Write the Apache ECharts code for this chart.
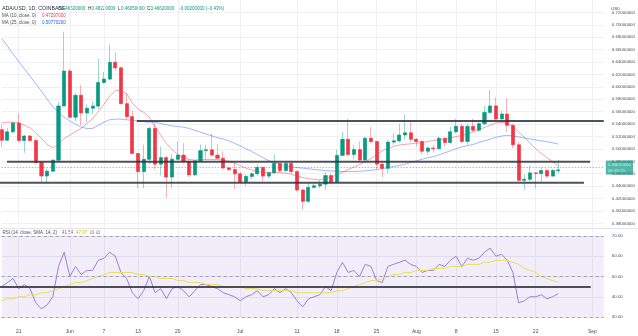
<!DOCTYPE html>
<html>
<head>
<meta charset="utf-8">
<script src="https://cdn.jsdelivr.net/npm/echarts/dist/echarts.min.js"></script>
<style>
  html, body { margin: 0; padding: 0; background: #ffffff; }
  #chart { width: 638px; height: 336px; }
</style>
</head>
<body>
<div id="chart"></div>
<script>
// Daily ADA/USD candles (Coinbase), one entry per session starting 2022-05-20
const open = [
  0.531, 0.514, 0.5276, 0.5417, 0.5135, 0.5208, 0.5135, 0.4781, 0.4563, 0.4641,
  0.4818, 0.5693, 0.6255, 0.5511, 0.5865, 0.558, 0.5656, 0.569, 0.607, 0.6125,
  0.6396, 0.6307, 0.573, 0.552, 0.4927, 0.4635, 0.4833, 0.533, 0.4755, 0.486,
  0.4547, 0.4833, 0.49, 0.4797, 0.4583, 0.4807, 0.4974, 0.4985, 0.4901, 0.4849,
  0.4693, 0.4667, 0.4599, 0.4469, 0.4557, 0.4599, 0.4703, 0.4562, 0.4615, 0.4765,
  0.4651, 0.4765, 0.4635, 0.4338, 0.4156, 0.438, 0.4406, 0.4432, 0.4572, 0.4469,
  0.4895, 0.5156, 0.4911, 0.4989, 0.4822, 0.5172, 0.512, 0.4755, 0.4687, 0.511,
  0.513, 0.5224, 0.526, 0.5156, 0.512, 0.4963, 0.5015, 0.5005, 0.5172, 0.5104,
  0.5276, 0.5364, 0.512, 0.5364, 0.5302, 0.5406, 0.5589, 0.5693, 0.5484, 0.5563,
  0.538, 0.5067, 0.4494, 0.451, 0.4614, 0.4604, 0.4651, 0.4562, 0.4652
];
const high = [
  0.540, 0.534, 0.5438, 0.5573, 0.5224, 0.5224, 0.517, 0.479, 0.4677, 0.4833,
  0.576, 0.689, 0.629, 0.590, 0.603, 0.572, 0.577, 0.645, 0.624, 0.668,
  0.655, 0.633, 0.590, 0.561, 0.492, 0.507, 0.5354, 0.5406, 0.504, 0.4885,
  0.491, 0.512, 0.5094, 0.4833, 0.4818, 0.507, 0.507, 0.525, 0.5083, 0.4963,
  0.4719, 0.478, 0.4625, 0.4583, 0.462, 0.4755, 0.4703, 0.4635, 0.491, 0.4781,
  0.4791, 0.480, 0.4655, 0.436, 0.4469, 0.444, 0.4494, 0.4625, 0.460, 0.4989,
  0.5276, 0.5484, 0.5067, 0.512, 0.520, 0.5354, 0.513, 0.4765, 0.5146, 0.525,
  0.5406, 0.5557, 0.5432, 0.5172, 0.513, 0.5041, 0.5067, 0.5198, 0.5172, 0.5354,
  0.5484, 0.5406, 0.5406, 0.5484, 0.5432, 0.5693, 0.5953, 0.5833, 0.5615, 0.5823,
  0.5406, 0.512, 0.4594, 0.4729, 0.4625, 0.4703, 0.4677, 0.4677, 0.4822
];
const low = [
  0.503, 0.5146, 0.525, 0.511, 0.4937, 0.512, 0.4755, 0.4453, 0.4453, 0.4625,
  0.4807, 0.568, 0.549, 0.545, 0.538, 0.543, 0.556, 0.564, 0.605, 0.611,
  0.626, 0.572, 0.548, 0.4912, 0.4365, 0.4364, 0.4755, 0.4677, 0.4573, 0.4218,
  0.4364, 0.4823, 0.4781, 0.4547, 0.4562, 0.4781, 0.4833, 0.4885, 0.4833, 0.4677,
  0.4651, 0.4354, 0.4443, 0.4406, 0.452, 0.4573, 0.4479, 0.452, 0.4599, 0.4625,
  0.4635, 0.460, 0.4312, 0.4026, 0.413, 0.436, 0.4365, 0.4338, 0.443, 0.4448,
  0.4885, 0.4885, 0.4833, 0.478, 0.4811, 0.5094, 0.4677, 0.4547, 0.4614, 0.5067,
  0.5104, 0.5146, 0.5104, 0.5041, 0.4911, 0.4911, 0.4937, 0.4989, 0.5041, 0.5083,
  0.525, 0.5094, 0.5067, 0.5276, 0.5276, 0.538, 0.5563, 0.5432, 0.5432, 0.5276,
  0.5015, 0.4479, 0.4338, 0.4479, 0.4364, 0.4469, 0.4536, 0.456, 0.4605
];
const close = [
  0.514, 0.5276, 0.5417, 0.5135, 0.5208, 0.5135, 0.4781, 0.4563, 0.4641, 0.4818,
  0.5693, 0.6255, 0.5511, 0.5865, 0.558, 0.5656, 0.569, 0.607, 0.6125, 0.6396,
  0.6307, 0.573, 0.552, 0.4927, 0.4635, 0.4833, 0.533, 0.4755, 0.486, 0.4547,
  0.4833, 0.49, 0.4797, 0.4583, 0.4807, 0.4974, 0.4985, 0.4901, 0.4849, 0.4693,
  0.4667, 0.4599, 0.4469, 0.4557, 0.4599, 0.4703, 0.4562, 0.4615, 0.4765, 0.4651,
  0.4765, 0.4635, 0.4338, 0.4156, 0.438, 0.4406, 0.4432, 0.4572, 0.4469, 0.4895,
  0.5156, 0.4911, 0.4989, 0.4822, 0.5172, 0.512, 0.4755, 0.4687, 0.511, 0.513,
  0.5224, 0.526, 0.5156, 0.512, 0.4963, 0.5015, 0.5005, 0.5172, 0.5104, 0.5276,
  0.5364, 0.512, 0.5364, 0.5302, 0.5406, 0.5589, 0.5693, 0.5484, 0.5563, 0.538,
  0.5067, 0.4494, 0.451, 0.4614, 0.4604, 0.4651, 0.4562, 0.4652, 0.4662
];

// Moving averages of close
const ma10 = [
  0.542, 0.543, 0.543, 0.542, 0.538, 0.534, 0.526, 0.517, 0.507, 0.502,
  0.507, 0.517, 0.522, 0.528, 0.533, 0.541, 0.549, 0.560, 0.572, 0.585,
  0.594, 0.594, 0.589, 0.574, 0.564, 0.559, 0.551, 0.536, 0.522, 0.509,
  0.499, 0.491, 0.486, 0.483, 0.482, 0.483, 0.483, 0.483, 0.483, 0.482,
  0.480, 0.477, 0.473, 0.469, 0.466, 0.464, 0.462, 0.462, 0.462, 0.462,
  0.461, 0.459, 0.456, 0.454, 0.452, 0.451, 0.450, 0.4521, 0.4547, 0.4583,
  0.4625, 0.4667, 0.4709, 0.475, 0.4792, 0.4844, 0.4911, 0.4969, 0.501, 0.5042,
  0.5063, 0.5073, 0.5083, 0.5094, 0.5104, 0.512, 0.5135, 0.5146, 0.5161, 0.5177,
  0.5198, 0.5219, 0.524, 0.5276, 0.5313, 0.5344, 0.5385, 0.5417, 0.5427, 0.5417,
  0.5365, 0.5276, 0.5188, 0.5094, 0.5005, 0.4927, 0.4859, 0.4792, 0.47297
];
const ma25 = [
  0.678, 0.666, 0.653, 0.641, 0.629, 0.617, 0.605, 0.593, 0.580, 0.568,
  0.559, 0.551, 0.545, 0.540, 0.535, 0.533, 0.533, 0.538, 0.543, 0.547,
  0.548, 0.548, 0.547, 0.546, 0.545, 0.544, 0.543, 0.543, 0.541, 0.539,
  0.537, 0.536, 0.535, 0.533, 0.530, 0.527, 0.524, 0.521, 0.518, 0.516,
  0.513, 0.509, 0.505, 0.500, 0.496, 0.491, 0.486, 0.481, 0.478, 0.475,
  0.473, 0.471, 0.470, 0.469, 0.468, 0.467, 0.466, 0.4651, 0.4646, 0.464,
  0.4635, 0.4635, 0.4635, 0.464, 0.4646, 0.4656, 0.4667, 0.4682, 0.4698, 0.4719,
  0.4734, 0.4755, 0.4781, 0.4807, 0.4833, 0.4859, 0.4875, 0.4906, 0.4938, 0.4969,
  0.5005, 0.5031, 0.5052, 0.5073, 0.5104, 0.513, 0.5156, 0.5187, 0.5208, 0.5219,
  0.5208, 0.5193, 0.5177, 0.5161, 0.5146, 0.513, 0.5115, 0.5099, 0.507702
];

// RSI(14) and its 14-period SMA
const rsi = [
  45, 47, 49, 44, 46, 44, 37, 34, 36, 40,
  55, 62, 50, 55, 51, 53, 53, 58, 59, 62,
  60, 52, 49, 42, 39, 43, 50, 42, 44, 39,
  44, 45, 43, 40, 43, 46, 46, 45, 44, 42,
  41, 40, 38, 40, 41, 43, 40, 41, 44, 42,
  44, 42, 38, 35, 39, 40, 41, 45, 43, 52,
  57, 52, 53, 50, 56, 55, 48, 47, 55, 56,
  57, 58, 56, 55, 52, 53, 53, 56, 55, 58,
  60, 55, 59, 58, 59, 62, 64, 60, 61, 58,
  52, 37, 38, 40, 40, 41, 39, 40, 41.54
];
const rsiMa = [
  38, 39, 39, 40, 40, 41, 41, 42, 42, 43,
  44, 45, 46, 47, 47, 48, 49, 50, 51, 52,
  52, 52, 52, 52, 51, 51, 50, 50, 49, 49,
  49, 48, 48, 47, 47, 47, 46, 46, 46, 45,
  45, 45, 45, 44, 44, 44, 43, 43, 43, 43,
  43, 43, 42, 42, 42, 42, 42, 42, 42, 43,
  43, 44, 45, 46, 47, 48, 48, 49, 50, 51,
  51, 52, 52, 53, 53, 53, 54, 54, 54, 55,
  55, 55, 56, 56, 56, 57, 57, 58, 58, 58,
  57, 56, 54, 53, 52, 50, 49, 48, 47.07
];

// Horizontal levels drawn on the panes: [fromIndex, toIndex, level]
const priceLevels = [
  [23.8, 106, 0.5449],
  [0.93, 103.6, 0.4792],
  [-0.3, 102.5, 0.4455]
];
const rsiLevels = [
  [-0.3, 103.7, 44.8]
];

// Time axis labels: category index and text
const tickIndex = [3, 12, 18, 24, 31, 42, 52, 59, 66, 73, 80, 87, 94, 104];
const tickText = ['21', 'Jun', '7', '13', '20', 'Jul', '11', '18', '25', 'Aug', '8', '15', '22', 'Sep'];

const N = 107;
const startDay = Date.UTC(2022, 4, 20);
const dates = [];
for (let i = 0; i < N; i++) {
  dates.push(new Date(startDay + i * 86400000).toISOString().slice(0, 10));
}

const UP = '#089981', DOWN = '#f23645';
const FONT = 'Liberation Sans, Arial, sans-serif';
const FS = 4.5;
const TXT = '#4a4d57';
const lastClose = close[close.length - 1];

const ohlc = open.map((o, i) => [o, close[i], low[i], high[i]]);
const bodies = open.map((o, i) => [o, close[i], Math.min(o, close[i]), Math.max(o, close[i])]);
const isTick = (idx) => tickIndex.indexOf(idx) >= 0;

function levelSeries(levels, xIdx, yIdx) {
  return levels.map(l => ({
    type: 'line', xAxisIndex: xIdx, yAxisIndex: yIdx,
    data: [[l[0], l[2]], [l[1], l[2]]],
    symbol: 'none', clip: false, silent: true,
    lineStyle: { color: '#30333d', width: 2, opacity: 0.85 },
    z: 4
  }));
}

// Small legend text pieces
function label(x, y, text, fill, size) {
  return {
    type: 'text', x: x, y: y, silent: true,
    style: { text: text, fill: fill, fontSize: size || FS, fontFamily: FONT, textVerticalAlign: 'middle' }
  };
}

const GRID_L = 1.7, GRID_R = 34.2;

const option = {
  animation: false,
  backgroundColor: '#ffffff',
  textStyle: { fontFamily: FONT },
  grid: [
    { left: GRID_L, right: GRID_R, top: -7.6, height: 243.4 },
    { left: GRID_L, right: GRID_R, top: 236, height: 81 }
  ],
  xAxis: [
    {
      type: 'category', gridIndex: 0, data: dates, boundaryGap: false,
      axisLine: { show: false }, axisTick: { show: false }, axisLabel: { show: false },
      splitLine: { show: true, interval: (i) => isTick(i), lineStyle: { color: '#eef0f4', width: 1 } }
    },
    { type: 'value', gridIndex: 0, min: 0, max: N - 1, show: false },
    {
      type: 'category', gridIndex: 1, data: dates, boundaryGap: false,
      axisLine: { show: false }, axisTick: { show: false },
      axisLabel: {
        interval: (i) => isTick(i),
        formatter: (v, i) => { const k = tickIndex.indexOf(i); return k >= 0 ? tickText[k] : ''; },
        fontSize: 5, color: TXT, margin: 12, fontFamily: FONT
      },
      splitLine: { show: true, interval: (i) => isTick(i), lineStyle: { color: '#eef0f4', width: 1 } }
    },
    { type: 'value', gridIndex: 1, min: 0, max: N - 1, show: false }
  ],
  yAxis: [
    {
      type: 'value', gridIndex: 0, position: 'right', min: 0.36, max: 0.74, interval: 0.02,
      axisLine: { show: false }, axisTick: { show: false },
      axisLabel: {
        formatter: (v) => v.toFixed(8), showMinLabel: false, showMaxLabel: false,
        fontSize: 4.4, color: TXT, margin: 8, fontFamily: FONT
      },
      splitLine: { show: true, showMinLine: false, showMaxLine: false, lineStyle: { color: '#eef0f4', width: 1 } }
    },
    {
      type: 'value', gridIndex: 1, position: 'right', min: 30, max: 70, interval: 10,
      axisLine: { show: false }, axisTick: { show: false },
      axisLabel: { formatter: (v) => v.toFixed(2), fontSize: 4.4, color: TXT, margin: 8, fontFamily: FONT },
      splitLine: { show: true, lineStyle: { color: '#eceaf4', width: 1 } }
    }
  ],
  series: [
    {
      name: 'wicks', type: 'candlestick', xAxisIndex: 0, yAxisIndex: 0, data: ohlc,
      barWidth: 3.4, clip: false, silent: true,
      itemStyle: {
        color: 'rgba(8,153,129,0.4)', color0: 'rgba(242,54,69,0.4)',
        borderColor: 'rgba(8,153,129,0.4)', borderColor0: 'rgba(242,54,69,0.4)', borderWidth: 1
      },
      z: 2
    },
    {
      name: 'bodies', type: 'candlestick', xAxisIndex: 0, yAxisIndex: 0, data: bodies,
      barWidth: 3.6, clip: false, silent: true,
      itemStyle: { color: UP, color0: DOWN, borderColor: UP, borderColor0: DOWN, borderWidth: 0.3 },
      markLine: {
        silent: true, symbol: 'none',
        data: [{ yAxis: lastClose }],
        lineStyle: { type: [1, 2], color: UP, width: 1, opacity: 0.7 },
        label: {
          show: true, position: 'end', distance: 2,
          formatter: lastClose.toFixed(8) + '\n08:59:15',
          backgroundColor: UP, color: '#ffffff', fontSize: 4.4, lineHeight: 6,
          padding: [1, 2, 1, 2], fontFamily: FONT
        }
      },
      z: 3
    },
    {
      name: 'MA10', type: 'line', xAxisIndex: 0, yAxisIndex: 0, data: ma10,
      symbol: 'none', silent: true, lineStyle: { color: 'rgba(242,54,69,0.45)', width: 1 }, z: 3
    },
    {
      name: 'MA25', type: 'line', xAxisIndex: 0, yAxisIndex: 0, data: ma25,
      symbol: 'none', silent: true, lineStyle: { color: 'rgba(41,98,255,0.45)', width: 1 }, z: 3
    },
    ...levelSeries(priceLevels, 1, 0),
    {
      name: 'RSI', type: 'line', xAxisIndex: 2, yAxisIndex: 1, data: rsi,
      symbol: 'none', silent: true, lineStyle: { color: '#9a7fd6', width: 1 }, z: 3,
      markArea: {
        silent: true,
        itemStyle: { color: 'rgba(126,87,194,0.1)' },
        data: [[{ yAxis: 30 }, { yAxis: 70 }]]
      },
      markLine: {
        silent: true, symbol: 'none', label: { show: false },
        lineStyle: { type: [3, 3], color: '#8f92a0', width: 0.8 },
        data: [{ yAxis: 70 }, { yAxis: 50 }, { yAxis: 30 }]
      }
    },
    {
      name: 'RSI MA', type: 'line', xAxisIndex: 2, yAxisIndex: 1, data: rsiMa,
      symbol: 'none', silent: true, lineStyle: { color: '#e9dc5a', width: 1 }, z: 3
    },
    ...levelSeries(rsiLevels, 3, 1)
  ],
  graphic: [
    { type: 'line', shape: { x1: 0, y1: 228.5, x2: 638, y2: 228.5 }, style: { stroke: '#e0e3eb', lineWidth: 1 }, silent: true },
    label(611, 9, 'USD', TXT, 4.4),
    label(2, 8.5, 'ADA/USD, 1D, COINBASE', '#2a2e39', 5.3),
    label(58, 8.5, 'O', '#2a2e39'), label(61.5, 8.5, '0.46520000', UP),
    label(88, 8.5, 'H', '#2a2e39'), label(91.5, 8.5, '0.48220000', UP),
    label(118, 8.5, 'L', '#2a2e39'), label(121, 8.5, '0.46050000', UP),
    label(147, 8.5, 'C', '#2a2e39'), label(150.5, 8.5, '0.46620000', UP),
    label(178, 8.5, '\u22120.00200000 (\u22120.43%)', UP),
    label(2, 15.7, 'MA (10, close, 0)', TXT), label(42, 15.7, '0.47297000', DOWN),
    label(2, 22.3, 'MA (25, close, 0)', TXT), label(42, 22.3, '0.50770200', '#2962ff'),
    label(2.5, 232.8, 'RSI (14, close, SMA, 14, 2)', TXT),
    label(62, 232.8, '41.54', '#7e57c2'), label(76, 232.8, '47.07', '#c9b800'),
    label(90, 232.8, '\u2205', TXT), label(96, 232.8, '\u2205', TXT)
  ]
};

const chart = echarts.init(document.getElementById('chart'));
chart.setOption(option);
</script>
</body>
</html>
